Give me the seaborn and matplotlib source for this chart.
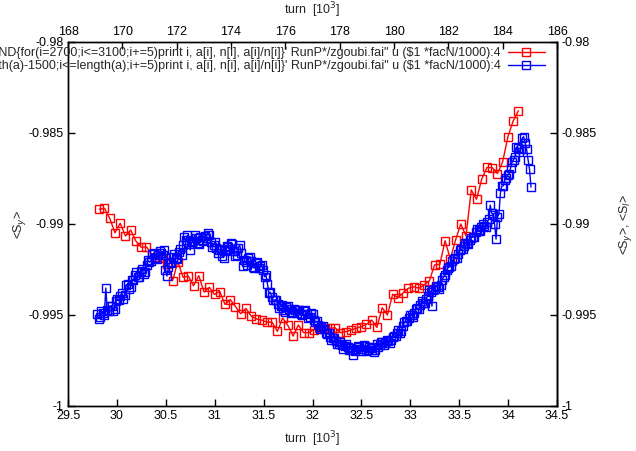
import numpy as np
import seaborn as sns
import matplotlib.pyplot as plt
import matplotlib.ticker as mticker

# red: turns on the top axis (x2), blue: turns on the bottom axis
red_turn_first, red_turn_last = 169.15, 184.58
red_sy = [-0.98919, -0.98914, -0.98969, -0.99048, -0.98996, -0.99066, -0.99033, -0.99094, -0.99128, -0.99125,
          -0.99165, -0.99181, -0.99187, -0.99220, -0.99312, -0.99207, -0.99293, -0.99286, -0.99339, -0.99284,
          -0.99374, -0.99348, -0.99387, -0.99371, -0.99442, -0.99415, -0.99454, -0.99493, -0.99464, -0.99506,
          -0.99522, -0.99528, -0.99539, -0.99540, -0.99590, -0.99517, -0.99557, -0.99616, -0.99555, -0.99597,
          -0.99597, -0.99580, -0.99573, -0.99570, -0.99573, -0.99570, -0.99597, -0.99592, -0.99583, -0.99573,
          -0.99564, -0.99551, -0.99528, -0.99568, -0.99460, -0.99500, -0.99386, -0.99405, -0.99378, -0.99353,
          -0.99345, -0.99353, -0.99335, -0.99313, -0.99225, -0.99222, -0.99092, -0.99192, -0.99088, -0.99000,
          -0.99066, -0.98813, -0.98864, -0.98753, -0.98689, -0.98690, -0.98723, -0.98657, -0.98520, -0.98434,
          -0.98378]

blue_turn_first, blue_turn_last = 29.797, 34.234
blue_sy = [-0.99495, -0.99520, -0.99511, -0.99480, -0.99489, -0.99500, -0.99352, -0.99470, -0.99478, -0.99450,
           -0.99451, -0.99480, -0.99467, -0.99425, -0.99412, -0.99420, -0.99396, -0.99380, -0.99412, -0.99390,
           -0.99335, -0.99330, -0.99357, -0.99345, -0.99308, -0.99310, -0.99280, -0.99265, -0.99291, -0.99290,
           -0.99258, -0.99245, -0.99275, -0.99265, -0.99225, -0.99200, -0.99209, -0.99205, -0.99165, -0.99160,
           -0.99187, -0.99195, -0.99170, -0.99150, -0.99159, -0.99170, -0.99143, -0.99250, -0.99286, -0.99235,
           -0.99209, -0.99215, -0.99181, -0.99165, -0.99187, -0.99190, -0.99154, -0.99135, -0.99170, -0.99115,
           -0.99072, -0.99090, -0.99061, -0.99110, -0.99143, -0.99100, -0.99094, -0.99060, -0.99077, -0.99105,
           -0.99110, -0.99070, -0.99088, -0.99095, -0.99066, -0.99075, -0.99050, -0.99060, -0.99099, -0.99125,
           -0.99116, -0.99100, -0.99132, -0.99160, -0.99143, -0.99140, -0.99176, -0.99185, -0.99148, -0.99120,
           -0.99127, -0.99140, -0.99105, -0.99110, -0.99148, -0.99175, -0.99170, -0.99130, -0.99116, -0.99160,
           -0.99231, -0.99200, -0.99209, -0.99225, -0.99187, -0.99180, -0.99203, -0.99235, -0.99242, -0.99215,
           -0.99209, -0.99240, -0.99231, -0.99225, -0.99253, -0.99290, -0.99280, -0.99330, -0.99379, -0.99375,
           -0.99401, -0.99420, -0.99418, -0.99415, -0.99440, -0.99460, -0.99451, -0.99445, -0.99473, -0.99485,
           -0.99456, -0.99450, -0.99467, -0.99490, -0.99484, -0.99465, -0.99473, -0.99490, -0.99473, -0.99470,
           -0.99495, -0.99500, -0.99478, -0.99475, -0.99495, -0.99515, -0.99511, -0.99490, -0.99495, -0.99525,
           -0.99539, -0.99535, -0.99555, -0.99575, -0.99566, -0.99560, -0.99577, -0.99600, -0.99605, -0.99600,
           -0.99621, -0.99640, -0.99627, -0.99625, -0.99643, -0.99660, -0.99660, -0.99650, -0.99665, -0.99685,
           -0.99671, -0.99660, -0.99676, -0.99695, -0.99682, -0.99690, -0.99720, -0.99700, -0.99687, -0.99670,
           -0.99676, -0.99700, -0.99687, -0.99665, -0.99671, -0.99700, -0.99693, -0.99675, -0.99682, -0.99690,
           -0.99704, -0.99695, -0.99660, -0.99675, -0.99665, -0.99650, -0.99649, -0.99665, -0.99654, -0.99635,
           -0.99643, -0.99655, -0.99638, -0.99620, -0.99616, -0.99615, -0.99599, -0.99580, -0.99599, -0.99590,
           -0.99561, -0.99540, -0.99533, -0.99535, -0.99517, -0.99500, -0.99500, -0.99510, -0.99489, -0.99465,
           -0.99462, -0.99465, -0.99445, -0.99425, -0.99434, -0.99435, -0.99412, -0.99395, -0.99363, -0.99375,
           -0.99451, -0.99360, -0.99357, -0.99340, -0.99346, -0.99355, -0.99335, -0.99305, -0.99291, -0.99280,
           -0.99253, -0.99240, -0.99236, -0.99230, -0.99203, -0.99190, -0.99187, -0.99185, -0.99165, -0.99145,
           -0.99137, -0.99140, -0.99121, -0.99105, -0.99105, -0.99110, -0.99088, -0.99075, -0.99072, -0.99070,
           -0.99044, -0.99030, -0.99033, -0.99040, -0.99017, -0.99000, -0.99011, -0.99015, -0.98989, -0.98975,
           -0.98896, -0.98940, -0.98951, -0.99000, -0.99083, -0.98960, -0.98945, -0.98830, -0.98791, -0.98790,
           -0.98758, -0.98745, -0.98731, -0.98725, -0.98692, -0.98660, -0.98648, -0.98630, -0.98577, -0.98580,
           -0.98604, -0.98590, -0.98528, -0.98520, -0.98555, -0.98590, -0.98648, -0.98700, -0.98797]

red_x = np.linspace(red_turn_first, red_turn_last, len(red_sy))
blue_x = np.linspace(blue_turn_first, blue_turn_last, len(blue_sy))

# dollars escaped so matplotlib does not read them as mathtext
red_label = (r"'< awk '{a[int(\$1)]+=\$4; n[int(\$1)]++} END{for(i=2700;i<=3100;i+=5)print i, a[i], n[i], "
             r"a[i]/n[i]}' RunP*/zgoubi.fai" + '"' + r" u (\$1 *facN/1000):4")
blue_label = (r"'< awk '{a[int(\$1)]+=\$4; n[int(\$1)]++} END{for(i=length(a)-1500;i<=length(a);i+=5)print i, a[i], n[i], "
              r"a[i]/n[i]}' RunP*/zgoubi.fai" + '"' + r" u (\$1 *facN/1000):4")

sns.set_style('ticks')
plt.rcParams['font.family'] = ['Liberation Sans', 'DejaVu Sans']
plt.rcParams['axes.unicode_minus'] = False
fs = 9

fig = plt.figure(figsize=(6.36, 4.51), dpi=100)
ax = fig.add_axes([68 / 636, 45 / 451, 489 / 636, 364 / 451])
ax_top = ax.twiny()
# blue drawn over red, like gnuplot's plot order
ax.set_zorder(ax_top.get_zorder() + 1)
ax.patch.set_visible(False)

mk = dict(marker='s', markersize=5.2, markerfacecolor='none', markeredgewidth=1, linewidth=1)
sns.lineplot(x=red_x, y=red_sy, ax=ax_top, color='#ff0000', markeredgecolor='#ff0000',
             sort=False, estimator=None, **mk)
sns.lineplot(x=blue_x, y=blue_sy, ax=ax, color='#0000ff', markeredgecolor='#0000ff',
             sort=False, estimator=None, **mk)

ax.set_xlim(29.5, 34.5)
ax.set_ylim(-1, -0.98)
ax_top.set_xlim(168, 186)
ax.xaxis.set_major_locator(mticker.MultipleLocator(0.5))
ax.yaxis.set_major_locator(mticker.MultipleLocator(0.005))
ax_top.xaxis.set_major_locator(mticker.MultipleLocator(2))
fmt = mticker.FuncFormatter(lambda v, p: '%g' % round(v, 6))
ax.xaxis.set_major_formatter(fmt)
ax.yaxis.set_major_formatter(fmt)
ax_top.xaxis.set_major_formatter(fmt)

ax_right = ax.secondary_yaxis('right')
ax_right.yaxis.set_major_locator(mticker.MultipleLocator(0.005))
ax_right.yaxis.set_major_formatter(fmt)

for a in (ax, ax_top, ax_right):
    a.tick_params(direction='in', length=5, width=1, labelsize=fs, colors='black', pad=3)
    for s in a.spines.values():
        s.set_linewidth(1)
        s.set_color('black')
ax.tick_params(top=False, right=False)

ax.set_xlabel('turn  [10$^3$]', fontsize=fs)
ax_top.set_xlabel('turn  [10$^3$]', fontsize=fs)
ax.set_ylabel('<S$_y$>', fontsize=fs)
ax_right.set_ylabel('<S$_y$>, <S$_l$>', fontsize=fs, labelpad=15)
ax.xaxis.set_label_coords(0.5, -0.064)
ax_top.xaxis.set_label_coords(0.5, 1.077)
ax.yaxis.set_label_coords(-0.082, 0.5)

red_line = ax_top.get_lines()[0]
blue_line = ax.get_lines()[0]
leg_kw = dict(loc='center right', frameon=False, markerfirst=False, handlelength=3.0,
              handletextpad=0.55, borderpad=0, borderaxespad=0, fontsize=fs)
leg1 = ax.legend([red_line], [red_label], bbox_to_anchor=(0.9755, 0.9698), **leg_kw)
ax.add_artist(leg1)
leg2 = ax.legend([blue_line], [blue_label], bbox_to_anchor=(0.9755, 0.934), **leg_kw)

fig.savefig('out.png', dpi=100)
